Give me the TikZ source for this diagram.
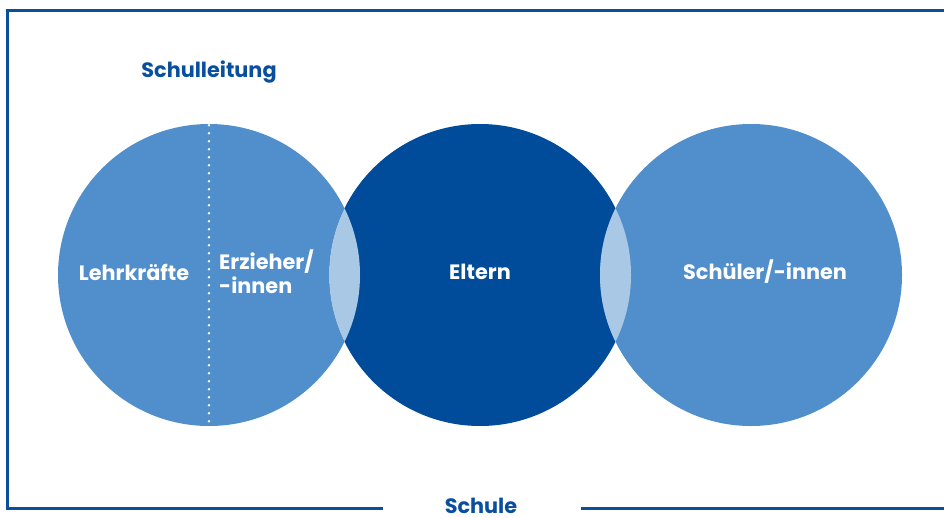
\documentclass[tikz,border=0pt]{standalone}
\usepackage{fontspec}
\setmainfont{Poppins}
\begin{document}
\definecolor{lightb}{HTML}{518FCC}
\definecolor{darkb}{HTML}{004C9A}
\definecolor{lensb}{HTML}{A9C8E6}
\definecolor{lineb}{HTML}{0A4F9E}
\begin{tikzpicture}[x=1pt,y=-1pt,
  circ/.style={circle,minimum size=302pt,inner sep=0pt,draw=none},
  lbl/.style={text=white,font=\fontsize{20.8}{24}\selectfont\bfseries,inner sep=0pt},
  ttl/.style={text=lineb,font=\fontsize{20.8}{24}\selectfont\bfseries,inner sep=0pt},
  frame/.style={draw=lineb,line width=3pt}]
\useasboundingbox (0,0) rectangle (944,517);
\node[circ,fill=lightb] (A) at (209,275) {};
\node[circ,fill=darkb] (B) at (480,275) {};
\node[circ,fill=lightb] (C) at (751,275) {};
\begin{scope}
\clip (A.center) circle (151);
\fill[lensb] (B.center) circle (151);
\end{scope}
\begin{scope}
\clip (C.center) circle (151);
\fill[lensb] (B.center) circle (151);
\end{scope}
\draw[white,line width=2.7pt,line cap=round,dash pattern=on 0pt off 8pt] ([yshift=-1.5pt]A.north) -- (A.south);
\node[lbl] (l1) at (134,272) {Lehrkräfte};
\node[lbl,align=left,anchor=west] (l2) at (219,272) {Erzieher/\\-innen};
\node[lbl] (l3) at (480,272) {Eltern};
\node[lbl] (l4) at (765,272) {Schüler/-innen};
\node[ttl] (t1) at (209,72) {Schulleitung};
\node[ttl] (t2) at (481,506) {Schule};
\coordinate (bl) at (7.3,508);
\coordinate (tl) at (7.3,10.5);
\coordinate (tr) at (944,10.5);
\coordinate (g1) at (383,508);
\coordinate (g2) at (581,508);
\coordinate (br) at (944,508);
\draw[frame] (g1) -- (bl) -- (tl) -- (tr);
\draw[frame] (g2) -- (br);
\end{tikzpicture}
\end{document}
